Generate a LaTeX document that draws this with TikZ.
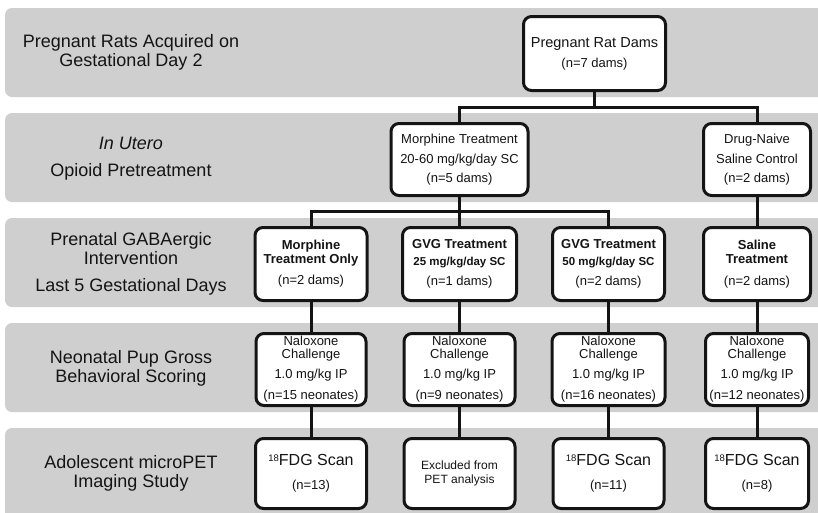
\documentclass[tikz,border=0pt]{standalone}
\usepackage{fontspec}
\setmainfont{Liberation Sans}
\definecolor{bandgray}{RGB}{207,207,207}
\definecolor{ink}{RGB}{20,20,20}
\newcommand{\isot}{\raisebox{4.6pt}{\fontsize{9.5}{9.5}\selectfont 18}}
\begin{document}
\begin{tikzpicture}[x=1pt,y=-1pt,
  bandbox/.style={fill=bandgray, draw=none, rounded corners=7pt},
  box/.style={draw=ink, line width=3pt, fill=white, rounded corners=8pt, align=center, inner sep=0pt, text=ink, font=\fontsize{13}{14}\selectfont},
  conn/.style={draw=ink, line width=3pt},
  lbl/.style={align=center, text=ink, font=\fontsize{18}{19}\selectfont}
]
\useasboundingbox (0,0) rectangle (818,512);
\clip (0,0) rectangle (818,512);
% bands
\path[bandbox] (5,8) rectangle (840,97);
\path[bandbox] (5,113) rectangle (840,202);
\path[bandbox] (5,218) rectangle (840,307);
\path[bandbox] (5,323) rectangle (840,412);
\path[bandbox] (5,428) rectangle (840,530);
% left labels
\node[lbl] (l1) at (131,52.5) {Pregnant Rats Acquired on\\Gestational Day 2};
\node[lbl] (l2) at (131,158.5) {\itshape In Utero\\[8pt]Opioid Pretreatment};
\node[lbl] (l3) at (131,264) {Prenatal GABAergic\\Intervention\\[8pt]Last 5 Gestational Days};
\node[lbl] (l4) at (131,368) {Neonatal Pup Gross\\Behavioral Scoring};
\node[lbl] (l5) at (131,473.5) {Adolescent microPET\\Imaging Study};
% row 1
\node[box, minimum width=142pt, minimum height=74pt] (preg) at (594.5,53.5)
  {{\fontsize{14.5}{15}\selectfont Pregnant Rat Dams}\\[6pt](n=7 dams)};
% row 2
\node[box, minimum width=137pt, minimum height=72pt] (morph) at (459.5,159.5)
  {Morphine Treatment\\[6pt]20-60 mg/kg/day SC\\[5pt](n=5 dams)};
\node[box, minimum width=107pt, minimum height=72pt] (naive) at (757,159.5)
  {Drug-Naive\\[6pt]Saline Control\\[5pt](n=2 dams)};
% row 3
\node[box, minimum width=112pt, minimum height=73pt] (mo) at (311,264)
  {\textbf{Morphine}\\\textbf{Treatment Only}\\[7pt](n=2 dams)};
\node[box, minimum width=114pt, minimum height=73pt] (g25) at (459.5,264)
  {\textbf{GVG Treatment}\\[3pt]{\fontsize{11.5}{14}\selectfont\bfseries 25 mg/kg/day SC}\\[6pt](n=1 dams)};
\node[box, minimum width=112pt, minimum height=73pt] (g50) at (608.5,264)
  {\textbf{GVG Treatment}\\[3pt]{\fontsize{11.5}{14}\selectfont\bfseries 50 mg/kg/day SC}\\[6pt](n=2 dams)};
\node[box, minimum width=107pt, minimum height=73pt] (sal) at (757,264)
  {\textbf{Saline}\\\textbf{Treatment}\\[8pt](n=2 dams)};
% row 4
\node[box, minimum width=110pt, minimum height=72pt, font=\fontsize{13}{13}\selectfont] (n1) at (311,369.5)
  {Naloxone\\Challenge\\[7pt]1.0 mg/kg IP\\[8pt](n=15 neonates)};
\node[box, minimum width=111pt, minimum height=72pt, font=\fontsize{13}{13}\selectfont] (n2) at (459.5,369.5)
  {Naloxone\\Challenge\\[7pt]1.0 mg/kg IP\\[8pt](n=9 neonates)};
\node[box, minimum width=113pt, minimum height=72pt, font=\fontsize{13}{13}\selectfont] (n3) at (608.5,369.5)
  {Naloxone\\Challenge\\[7pt]1.0 mg/kg IP\\[8pt](n=16 neonates)};
\node[box, minimum width=103pt, minimum height=72pt, font=\fontsize{13}{13}\selectfont] (n4) at (757,369.5)
  {Naloxone\\Challenge\\[7pt]1.0 mg/kg IP\\[8pt](n=12 neonates)};
% row 5
\node[box, minimum width=111pt, minimum height=70pt, font=\fontsize{13}{16}\selectfont] (f1) at (311,473.5)
  {{\fontsize{16}{16}\selectfont\isot FDG Scan}\\[8pt](n=13)};
\node[box, minimum width=111pt, minimum height=70pt, font=\fontsize{12}{14}\selectfont] (f2) at (459.5,473.5)
  {Excluded from\\PET analysis};
\node[box, minimum width=111pt, minimum height=70pt, font=\fontsize{13}{16}\selectfont] (f3) at (608.5,473.5)
  {{\fontsize{16}{16}\selectfont\isot FDG Scan}\\[8pt](n=11)};
\node[box, minimum width=103pt, minimum height=70pt, font=\fontsize{13}{16}\selectfont] (f4) at (757,473.5)
  {{\fontsize{16}{16}\selectfont\isot FDG Scan}\\[8pt](n=8)};
% connectors
\coordinate (j1) at (594.5,107);
\coordinate (j2) at (459.5,211);
\draw[conn] (preg.south) -- (j1);
\draw[conn] (morph.north) |- (j1) -| (naive.north);
\draw[conn] (morph.south) -- (j2);
\draw[conn] (mo.north) |- (j2) -| (g50.north);
\draw[conn] (j2) -- (g25.north);
\draw[conn] (naive.south) -- (sal.north);
\draw[conn] (mo.south) -- (n1.north);
\draw[conn] (g25.south) -- (n2.north);
\draw[conn] (g50.south) -- (n3.north);
\draw[conn] (sal.south) -- (n4.north);
\draw[conn] (n1.south) -- (f1.north);
\draw[conn] (n2.south) -- (f2.north);
\draw[conn] (n3.south) -- (f3.north);
\draw[conn] (n4.south) -- (f4.north);
\end{tikzpicture}
\end{document}
